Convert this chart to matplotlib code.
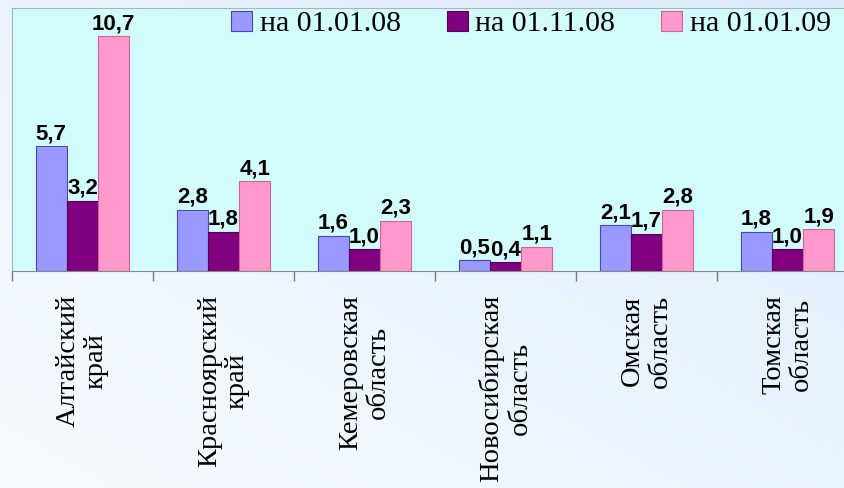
import matplotlib.pyplot as plt
import numpy as np

# данные
regions = ["Алтайский\nкрай", "Красноярский\nкрай", "Кемеровская\nобласть",
           "Новосибирская\nобласть", "Омская\nобласть", "Томская\nобласть"]
series = ["на 01.01.08", "на 01.11.08", "на 01.01.09"]
v_jan08 = [5.7, 2.8, 1.6, 0.5, 2.1, 1.8]
v_nov08 = [3.2, 1.8, 1.0, 0.4, 1.7, 1.0]
v_jan09 = [10.7, 4.1, 2.3, 1.1, 2.8, 1.9]

colors = ["#9999ff", "#800080", "#ff99cc"]
edges = ["#4a4aa0", "#5a005a", "#cc6699"]

fig = plt.figure(figsize=(8.45, 4.88), dpi=100)

# фон с градиентом
bg = fig.add_axes([0, 0, 1, 1], zorder=-10)
gx, gy = np.meshgrid(np.linspace(0, 1, 200), np.linspace(0, 1, 200))
grad = 0.5 * gx + 0.5 * (1 - gy)
bg.imshow(grad, extent=[0, 1, 0, 1], origin="upper", aspect="auto",
          cmap=plt.matplotlib.colors.LinearSegmentedColormap.from_list(
              "bg", ["#f7fbff", "#dcecfa"]))
bg.axis("off")

ax = fig.add_axes([12 / 845, 1 - 271 / 488, 846 / 845, 263 / 488])
ax.set_facecolor("#d2fcfc")

n = len(regions)
x = np.arange(n) + 0.5
w = 0.222
data = [v_jan08, v_nov08, v_jan09]
for k, vals in enumerate(data):
    pos = x + (k - 1) * w
    bars = ax.bar(pos, vals, w, color=colors[k], edgecolor=edges[k],
                  linewidth=0.8, label=series[k])
    for xp, v in zip(pos, vals):
        ax.annotate(f"{v:.1f}".replace(".", ","), (xp, v), xytext=(0, 5),
                    textcoords="offset points", ha="center", va="baseline",
                    fontsize=16, fontweight="bold", family="Liberation Sans")

ax.set_xlim(0, n)
ax.set_ylim(0, 12)
ax.set_yticks([])
ax.set_xticks(x)
ax.set_xticklabels(regions, rotation=90, va="top", ha="center",
                   multialignment="center", family="Liberation Serif",
                   fontsize=20.5, linespacing=1.15)
ax.tick_params(axis="x", which="major", length=0, pad=17)
ax.set_xticks(np.arange(n + 1), minor=True)
ax.tick_params(axis="x", which="minor", length=7, color="#777777", width=1)

for s in ["left", "top", "right"]:
    ax.spines[s].set_color("#a8b4c0")
ax.spines["bottom"].set_color("#888888")

fig.legend(loc="center", bbox_to_anchor=(531 / 845, 1 - 24 / 488), ncol=3,
           frameon=False, prop={"family": "Liberation Serif", "size": 21.5},
           handlelength=0.7, handleheight=0.7, handletextpad=0.25,
           columnspacing=1.55)

fig.savefig("out.png", dpi=100)
